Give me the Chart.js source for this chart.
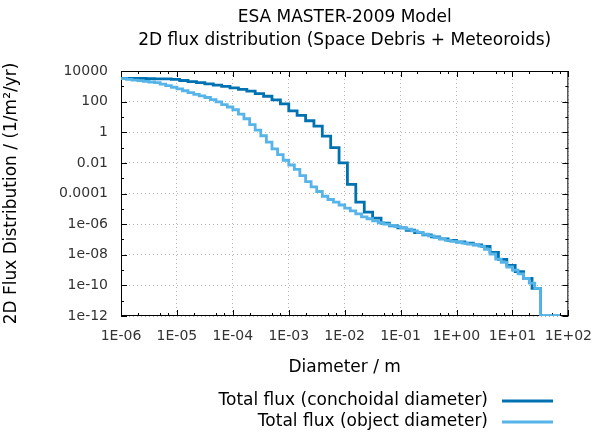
<!DOCTYPE html>
<html>
<head>
<meta charset="utf-8">
<title>ESA MASTER-2009 2D flux</title>
<script src="https://cdn.jsdelivr.net/npm/chart.js@4.4.1/dist/chart.umd.min.js"></script>
<style>
    html, body { margin: 0; padding: 0; background: #fff; }
    #wrap { width: 604px; height: 432px; }
</style>
</head>
<body>
<div id="wrap"><canvas id="fluxChart" width="604" height="432"></canvas></div>
<script>
// Diameter bins (m) of the conchoidal-diameter curve
const diametersConchoidal = [
    1.00e-6, 1.41e-6, 2.00e-6, 2.82e-6, 3.98e-6, 5.62e-6, 7.94e-6,
    1.12e-5, 1.58e-5, 2.24e-5, 3.16e-5, 4.47e-5, 6.31e-5, 8.91e-5,
    1.26e-4, 1.78e-4, 2.51e-4, 3.55e-4, 5.01e-4, 7.08e-4,
    1.00e-3, 1.41e-3, 2.00e-3, 2.82e-3, 3.98e-3, 5.62e-3, 7.94e-3,
    1.12e-2, 1.58e-2, 2.24e-2, 3.16e-2, 4.47e-2, 6.31e-2, 8.91e-2,
    0.126, 0.178, 0.251, 0.355, 0.501, 0.708,
    1.00, 1.41, 2.00, 2.82, 3.98, 5.62, 7.94,
    11.2, 15.8, 22.4, 31.6, 44.7, 63.1, 70.8
];

// Total flux, conchoidal diameter (1/m^2/yr)
const fluxConchoidal = [
    3.31e3, 3.31e3, 3.24e3, 3.16e3, 3.09e3, 3.02e3, 2.88e3,
    2.40e3, 2.00e3, 1.74e3, 1.45e3, 1.20e3, 1.00e3, 7.94e2,
    6.31e2, 4.79e2, 3.31e2, 2.24e2, 1.32e2, 70.8,
    25.1, 12.6, 5.62, 2.51, 0.562, 0.100, 0.0100,
    3.98e-4, 2.75e-5, 6.03e-6, 2.45e-6, 1.17e-6, 7.59e-7, 5.75e-7,
    3.98e-7, 2.82e-7, 2.00e-7, 1.45e-7, 1.10e-7, 8.51e-8,
    6.92e-8, 5.75e-8, 4.47e-8, 3.55e-8, 1.41e-8, 5.01e-9, 2.00e-9,
    7.94e-10, 2.82e-10, 6.31e-11, 1e-12, 1e-12, 1e-12, 1e-12
];

// Diameter bins (m) of the object-diameter curve (finer steps)
const diametersObject = [
    1.00e-6, 1.26e-6, 1.58e-6, 2.00e-6, 2.51e-6, 3.16e-6, 3.98e-6, 5.01e-6, 6.31e-6, 7.94e-6,
    1.00e-5, 1.26e-5, 1.58e-5, 2.00e-5, 2.51e-5, 3.16e-5, 3.98e-5, 5.01e-5, 6.31e-5, 7.94e-5,
    1.00e-4, 1.26e-4, 1.58e-4, 2.00e-4, 2.51e-4, 3.16e-4, 3.98e-4, 5.01e-4, 6.31e-4, 7.94e-4,
    1.00e-3, 1.26e-3, 1.58e-3, 2.00e-3, 2.51e-3, 3.16e-3, 3.98e-3, 5.01e-3, 6.31e-3, 7.94e-3,
    1.00e-2, 1.26e-2, 1.58e-2, 2.00e-2, 2.51e-2, 3.16e-2, 3.98e-2, 5.01e-2, 6.31e-2, 7.94e-2,
    0.100, 0.126, 0.158, 0.200, 0.251, 0.316, 0.398, 0.501, 0.631, 0.794,
    1.00, 1.26, 1.58, 2.00, 2.51, 3.16, 3.98, 5.01, 6.31, 7.94,
    10.0, 12.6, 15.8, 20.0, 25.1, 31.6, 39.8, 50.1, 63.1, 70.8
];

// Total flux, object diameter (1/m^2/yr)
const fluxObject = [
    3.16e3, 2.82e3, 2.57e3, 2.34e3, 2.09e3, 1.91e3, 1.74e3, 1.41e3, 1.12e3, 8.71e2,
    6.76e2, 5.13e2, 3.89e2, 3.02e2, 2.40e2, 1.86e2, 1.35e2, 95.5, 64.6, 44.7,
    29.5, 15.1, 7.59, 3.16, 1.38, 0.589, 0.229, 0.0832, 0.0347, 0.0148,
    7.24e-3, 3.72e-3, 1.45e-3, 5.89e-4, 2.69e-4, 1.35e-4, 6.61e-5, 4.07e-5, 2.75e-5, 1.78e-5,
    1.12e-5, 7.24e-6, 4.68e-6, 3.02e-6, 2.24e-6, 1.62e-6, 1.23e-6, 1.00e-6, 8.32e-7, 6.92e-7,
    5.75e-7, 4.68e-7, 3.63e-7, 2.88e-7, 2.19e-7, 1.70e-7, 1.32e-7, 1.10e-7, 8.71e-8, 7.41e-8,
    6.46e-8, 5.75e-8, 5.01e-8, 4.47e-8, 3.63e-8, 2.24e-8, 1.12e-8, 5.25e-9, 3.16e-9, 1.58e-9,
    1.00e-9, 5.62e-10, 2.82e-10, 1.41e-10, 6.31e-11, 1e-12, 1e-12, 1e-12, 1e-12, 1e-12
];

const seriesLabels = ['Total flux (conchoidal diameter)', 'Total flux (object diameter)'];
const seriesColors = ['#0072b2', '#56b4e9'];

const xTicks = [1e-6, 1e-5, 1e-4, 1e-3, 1e-2, 1e-1, 1e0, 1e1, 1e2];
const xTickLabels = ['1E-06', '1E-05', '1E-04', '1E-03', '1E-02', '1E-01', '1E+00', '1E+01', '1E+02'];
const yTicks = [1e4, 1e2, 1, 1e-2, 1e-4, 1e-6, 1e-8, 1e-10, 1e-12];
const yTickLabels = ['10000', '100', '1', '0.01', '0.0001', '1e-06', '1e-08', '1e-10', '1e-12'];
const xMinorSteps = [2, 5, 7];
const yMinorTicks = [1e3, 1e1, 1e-1, 1e-3, 1e-5, 1e-7, 1e-9, 1e-11];

const FONT = 'DejaVu Sans';

// Frame and inward ticks on all four sides (gnuplot style)
const frameTicks = {
    id: 'frameTicks',
    beforeDatasetsDraw(chart) {
        const { ctx, chartArea: a, scales: { x, y } } = chart;
        ctx.save();
        ctx.strokeStyle = '#000';
        ctx.lineWidth = 1;
        ctx.beginPath();
        const vTick = (v, len) => {
            const px = Math.round(x.getPixelForValue(v)) + 0.5;
            ctx.moveTo(px, a.bottom); ctx.lineTo(px, a.bottom - len);
            ctx.moveTo(px, a.top); ctx.lineTo(px, a.top + len);
        };
        const hTick = (v, len) => {
            const py = Math.round(y.getPixelForValue(v)) + 0.5;
            ctx.moveTo(a.left, py); ctx.lineTo(a.left + len, py);
            ctx.moveTo(a.right, py); ctx.lineTo(a.right - len, py);
        };
        xTicks.forEach(v => vTick(v, 6));
        xTicks.slice(0, -1).forEach(v => xMinorSteps.forEach(m => vTick(v * m, 3)));
        yTicks.forEach(v => hTick(v, 6));
        yMinorTicks.forEach(v => hTick(v, 3));
        ctx.stroke();
        ctx.strokeRect(a.left + 0.5, a.top + 0.5, a.right - a.left - 1, a.bottom - a.top - 1);
        ctx.restore();
    }
};

// Legend: text right-aligned, line sample to its right
const sideLegend = {
    id: 'sideLegend',
    afterDraw(chart) {
        const { ctx } = chart;
        ctx.save();
        ctx.font = '17px "' + FONT + '"';
        ctx.textAlign = 'right';
        ctx.textBaseline = 'middle';
        chart.data.datasets.forEach((ds, i) => {
            const yy = 401 + i * 21;
            ctx.fillStyle = '#000';
            ctx.fillText(ds.label, 488, yy);
            ctx.strokeStyle = ds.borderColor;
            ctx.lineWidth = 2.8;
            ctx.beginPath();
            ctx.moveTo(502, yy);
            ctx.lineTo(553, yy);
            ctx.stroke();
        });
        ctx.restore();
    }
};

function makeSeries(diams, values) {
    return diams.map((d, i) => ({ x: d, y: values[i] }));
}

const ctx = document.getElementById('fluxChart').getContext('2d');
const fluxChart = new Chart(ctx, {
    type: 'line',
    data: {
        datasets: [
            {
                label: seriesLabels[0],
                data: makeSeries(diametersConchoidal, fluxConchoidal),
                borderColor: seriesColors[0],
                borderWidth: 2.8,
                stepped: true,
                pointRadius: 0,
                fill: false,
                order: 1
            },
            {
                label: seriesLabels[1],
                data: makeSeries(diametersObject, fluxObject),
                borderColor: seriesColors[1],
                borderWidth: 2.8,
                stepped: true,
                pointRadius: 0,
                fill: false,
                order: 0
            }
        ]
    },
    options: {
        responsive: false,
        animation: false,
        layout: { padding: { top: 0, left: 0, right: 32, bottom: 50 } },
        plugins: {
            legend: { display: false },
            tooltip: { enabled: false },
            title: {
                display: true,
                fullSize: false,
                text: ['ESA MASTER-2009 Model', '2D flux distribution (Space Debris + Meteoroids)'],
                color: '#000',
                font: { family: FONT, size: 17, weight: 'normal', lineHeight: 1.353 },
                padding: { top: 6, bottom: 19 }
            }
        },
        scales: {
            x: {
                type: 'logarithmic',
                min: 1e-6,
                max: 1e2,
                afterFit(scale) { scale.height = 66; },
                afterBuildTicks(scale) { scale.ticks = xTicks.map(v => ({ value: v })); },
                grid: { color: '#b4b4b4', lineWidth: 1, drawTicks: false },
                border: { display: false, dash: [1, 3] },
                ticks: {
                    autoSkip: false,
                    maxRotation: 0,
                    padding: 12,
                    color: '#333',
                    font: { family: FONT, size: 14 },
                    callback: (v) => xTickLabels[xTicks.indexOf(v)] ?? ''
                },
                title: {
                    display: true,
                    text: 'Diameter / m',
                    color: '#000',
                    font: { family: FONT, size: 17 },
                    padding: { top: 0, bottom: 4 }
                }
            },
            y: {
                type: 'logarithmic',
                min: 1e-12,
                max: 1e4,
                afterFit(scale) { scale.width = 121; },
                afterBuildTicks(scale) { scale.ticks = yTicks.map(v => ({ value: v })); },
                grid: { color: '#b4b4b4', lineWidth: 1, drawTicks: false },
                border: { display: false, dash: [1, 3] },
                ticks: {
                    autoSkip: false,
                    padding: 13,
                    color: '#333',
                    font: { family: FONT, size: 14 },
                    callback: (v) => yTickLabels[yTicks.indexOf(v)] ?? ''
                },
                title: {
                    display: true,
                    text: '2D Flux Distribution / (1/m²/yr)',
                    color: '#000',
                    font: { family: FONT, size: 17 },
                    padding: { top: 1, bottom: 0 }
                }
            }
        }
    },
    plugins: [frameTicks, sideLegend]
});
</script>
</body>
</html>
